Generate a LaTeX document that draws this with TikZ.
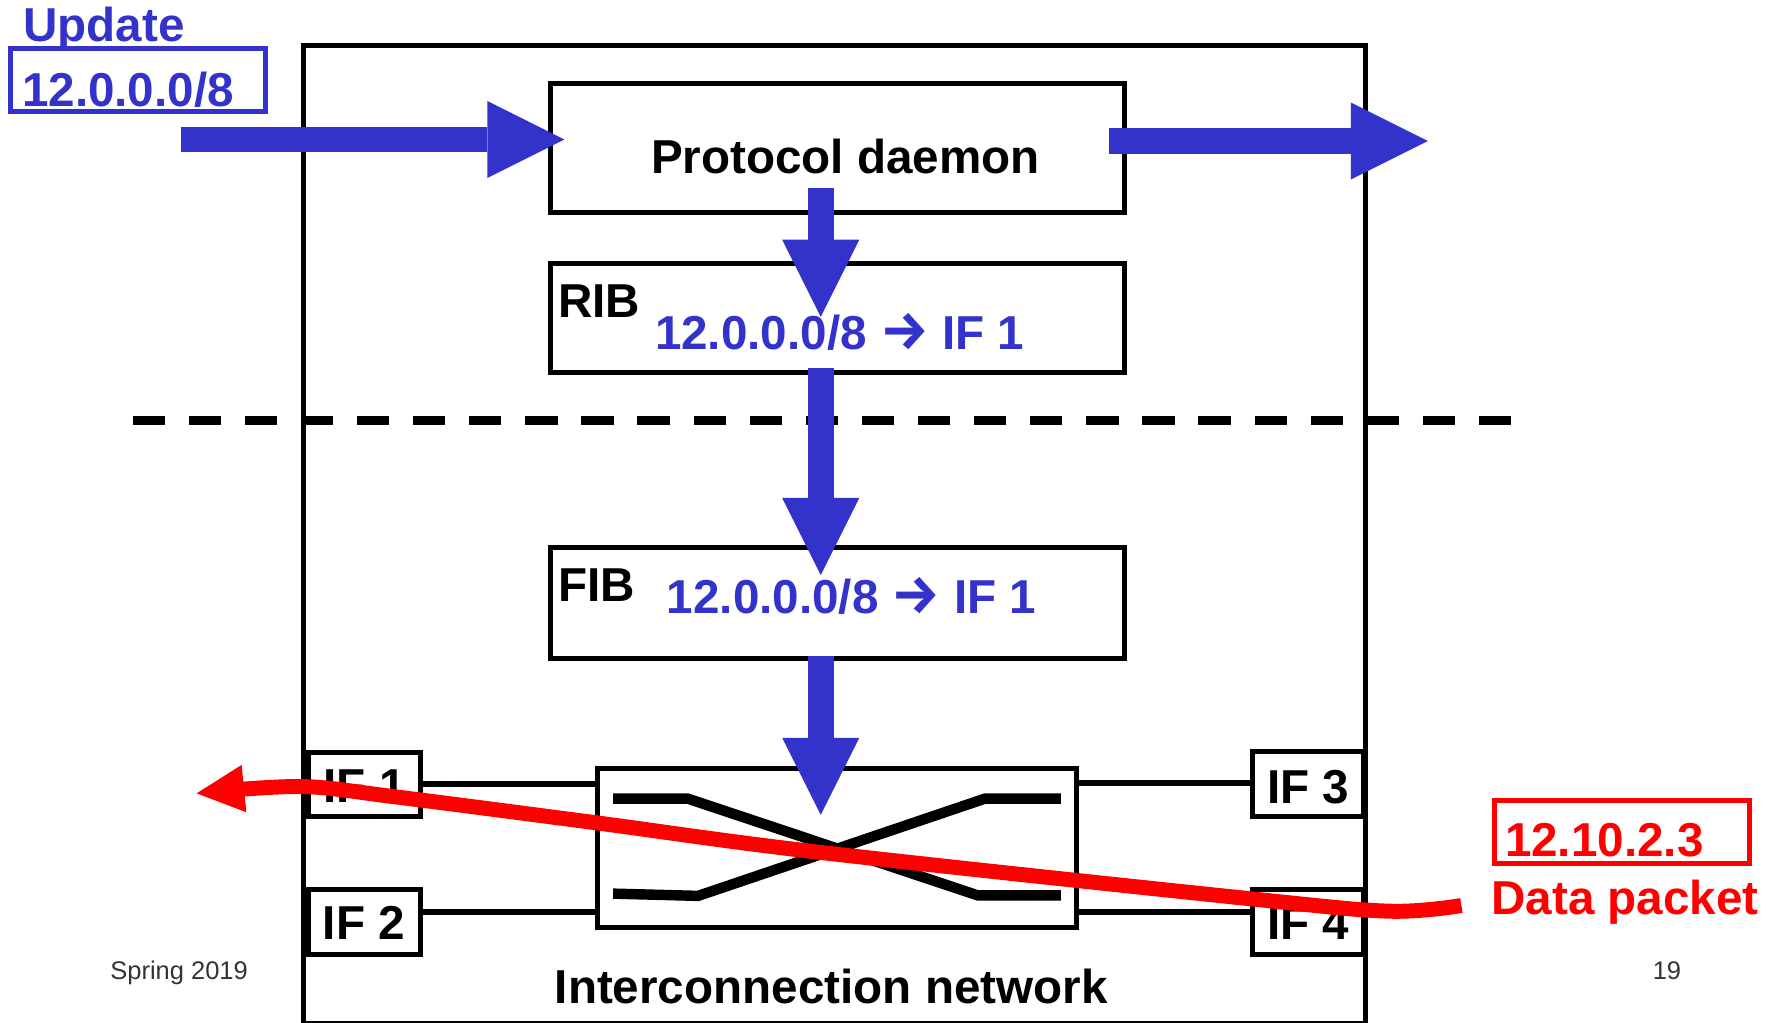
\documentclass[tikz,border=0pt]{standalone}
\usepackage{fontspec}
\setmainfont{Liberation Sans}
\newfontfamily\arrfont{Fira Sans}
\newcommand{\maparrow}{{\arrfont\fontsize{24}{24}\selectfont →}}
\usetikzlibrary{arrows.meta}
\definecolor{pblue}{RGB}{51,51,204}
\definecolor{pred}{RGB}{255,0,0}
\definecolor{pgray}{RGB}{51,51,51}
\begin{document}
\begin{tikzpicture}[x=0.5pt,y=-0.5pt,
  box/.style={draw=black, line width=2.2pt, rectangle, inner sep=0pt, outer sep=0pt, fill=white},
  lbl/.style={font=\fontsize{21}{24}\selectfont\bfseries, inner sep=0pt, outer sep=0pt, anchor=base west},
  bluelbl/.style={lbl, text=pblue},
  redlbl/.style={lbl, text=pred},
  smalllbl/.style={font=\fontsize{11.25}{13}\selectfont, text=pgray, inner sep=0pt, anchor=base west},
  fat/.style={draw=pblue, line width=11.3pt, -{Triangle[length=34pt,width=34pt,line width=0pt]}},
  wire/.style={draw=black, line width=2.5pt},
  xbar/.style={draw=black, line width=4.6pt, line join=miter},
  cut/.style={draw=black, line width=3.7pt, dash pattern=on 14.25pt off 10.5pt},
  pkt/.style={draw=pred, line width=6.6pt, -{Triangle[length=21pt,width=21pt,line width=0pt]}}
]
\useasboundingbox (0,0) rectangle (1568,902);
\clip (0,0) rectangle (1568,902);

% router frame
\node[box, minimum width=468.25pt, minimum height=431.5pt] (router) at (736.25,471.5) {};

% control / data plane separation
\coordinate (cutL) at (117,371);
\coordinate (cutR) at (1335,371);
\draw[cut] (cutL) -- (cutR);

% boxes
\node[box, minimum width=253.25pt, minimum height=56.9pt] (pd) at (738.75,130.6) {};
\node[box, minimum width=253.25pt, minimum height=48.2pt] (rib) at (738.75,280.6) {};
\node[box, minimum width=253.25pt, minimum height=48.75pt] (fib) at (738.75,532.25) {};
\node[box, minimum width=211.5pt, minimum height=70.15pt] (net) at (738.5,748.15) {};
\node[box, minimum width=49.5pt, minimum height=28.2pt] (if1) at (321.5,692.2) {};
\node[box, minimum width=49.5pt, minimum height=28.7pt] (if2) at (321.5,813.3) {};
\node[box, minimum width=48.75pt, minimum height=28.5pt] (if3) at (1154.25,691.9) {};
\node[box, minimum width=48.75pt, minimum height=28.7pt] (if4) at (1154.25,813.3) {};
\node[box, draw=pblue, minimum width=112.55pt, minimum height=28.1pt] (upd) at (121.55,70.6) {};
\node[box, draw=pred, minimum width=112.55pt, minimum height=27.85pt] (pkt) at (1431.25,733.85) {};

% wires between interfaces and interconnection network
\draw[wire] ([yshift=0.3pt]if1.east) -- ([yshift=0.3pt]if1.east -| net.west);
\draw[wire] ([yshift=4.35pt]if2.east) -- ([yshift=4.35pt]if2.east -| net.west);
\draw[wire] ([yshift=0.45pt]if3.west) -- ([yshift=0.45pt]if3.west -| net.east);
\draw[wire] ([yshift=4.35pt]if4.west) -- ([yshift=4.35pt]if4.west -| net.east);

% crossbar
\draw[xbar] (541,704.7) -- (607,704.7) -- (862.5,790) -- (936,790);
\draw[xbar] (541,788.5) -- (616,790.5) -- (869,704.7) -- (936,704.7);

% labels
\node[bluelbl] (updt) at (20.6,36.8) {Update};
\node[bluelbl] (updp) at (19.5,94) {12.0.0.0/8};
\node[lbl, anchor=base] (pdt) at (746,153) {Protocol daemon};
\node[lbl] (ribt) at (492.5,280) {RIB};
\node[bluelbl] (ribe) at (578,308.8) {12.0.0.0/8 \maparrow{} IF 1};
\node[lbl] (fibt) at (492.5,530.9) {FIB};
\node[bluelbl] (fibe) at (588.5,541.2) {12.0.0.0/8 \maparrow{} IF 1};
\node[lbl] (if1t) at (285.5,708.5) {IF 1};
\node[lbl] (if2t) at (285,829.4) {IF 2};
\node[lbl] (if3t) at (1118,708.8) {IF 3};
\node[lbl] (if4t) at (1118,829.4) {IF 4};
\node[lbl, anchor=base] (nett) at (733.4,885.3) {Interconnection network};
\node[redlbl] (pktt) at (1328,755.9) {12.10.2.3};
\node[redlbl] (pktd) at (1316,806.8) {Data packet};
\node[smalllbl] (foot) at (97,864) {Spring 2019};
\node[smalllbl] (pnum) at (1458,864) {19};

% blue update flow
\coordinate (updin) at (159.7,123.1);
\coordinate (updout) at (1260,124.4);
\draw[fat] (updin) -- ([xshift=6.25pt,yshift=3.75pt]pd.west);
\draw[fat] ([xshift=-6.7pt,yshift=3.1pt]pd.east) -- (updout);
\draw[fat] ([xshift=-7.275pt,yshift=10.75pt]pd.south) -- ([xshift=-7.275pt,yshift=-23.55pt]rib.north);
\draw[fat] ([xshift=-7.275pt,yshift=1.95pt]rib.south) -- ([xshift=-7.275pt,yshift=-11.95pt]fib.north);
\draw[fat] ([xshift=-7.275pt,yshift=1.1pt]fib.south) -- ([xshift=-7.15pt,yshift=-20.5pt]net.north);

% red data packet path
\coordinate (pktsrc) at (1289.5,799);
\coordinate (pktdst) at (173.5,700);
\draw[pkt] plot[smooth, tension=0.55] coordinates {(pktsrc) (1226,804) (1103,793) (723,752) (526,726) (348,703) (265,694) (pktdst)};
\end{tikzpicture}
\end{document}
